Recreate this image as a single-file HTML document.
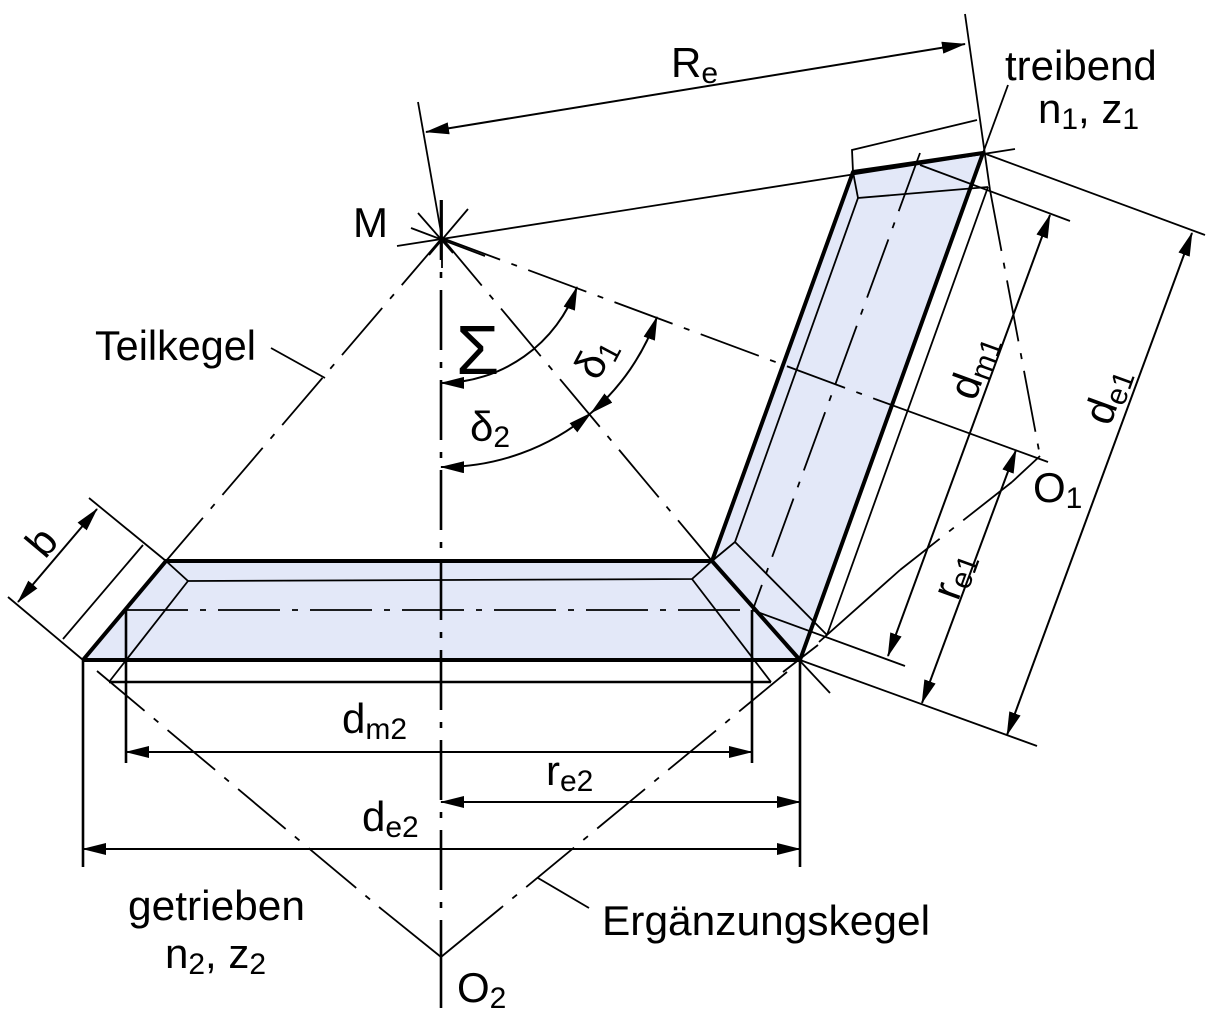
<!DOCTYPE html>
<html><head><meta charset="utf-8"><style>
html,body{margin:0;padding:0;background:#fff}
svg{display:block}
text{font-family:"Liberation Sans",Arial,sans-serif;fill:#000}
.t{stroke:#000;stroke-width:1.8;fill:none}
.k{stroke:#000;stroke-width:4;fill:none;stroke-linejoin:round}
.m{stroke:#000;stroke-width:2.6;fill:none}
.d{stroke:#000;stroke-width:1.8;fill:none;stroke-dasharray:62 12 6 12}
.dv{stroke:#000;stroke-width:2.6;fill:none;stroke-dasharray:60 12 6 12}
.a{stroke:#000;stroke-width:2;fill:none;marker-start:url(#ar);marker-end:url(#ar)}
</style></head><body>
<svg width="1209" height="1019" viewBox="0 0 1209 1019">
<defs>
<marker id="ar" markerWidth="24" markerHeight="12" refX="23" refY="6" orient="auto-start-reverse" markerUnits="userSpaceOnUse">
<path d="M0,0 L24,6 L0,12 Z" fill="#000"/>
</marker>
</defs>

<polygon points="166,561 712,561 800,660 83,660" fill="#e3e8f8"/>
<polygon points="853,172 983,153 800,660 712,561" fill="#e3e8f8"/>

<line class="dv" x1="441" y1="200" x2="441" y2="958"/>
<line class="m" x1="441" y1="958" x2="441" y2="1008"/>
<line class="d" x1="442" y1="238" x2="875" y2="399"/>
<line class="t" x1="875" y1="399" x2="1048" y2="462"/>
<line class="d" x1="442" y1="238" x2="712" y2="561"/>
<line class="d" x1="442" y1="238" x2="166" y2="561"/>
<line class="t" x1="271" y1="348" x2="325" y2="378"/>
<line class="d" x1="126" y1="610" x2="752" y2="610"/>
<line class="d" x1="920" y1="153" x2="752" y2="612"/>

<g class="t">
<line x1="442" y1="200" x2="442" y2="268"/>
<line x1="468" y1="209" x2="429" y2="255"/>
<line x1="418" y1="213" x2="453" y2="253"/>
<line x1="411" y1="228" x2="485" y2="256"/>
</g>
<line class="t" x1="397" y1="246" x2="1015" y2="149"/>
<line class="t" x1="442" y1="238" x2="418" y2="102"/>
<line class="t" x1="965" y1="14" x2="990" y2="190"/>
<line class="d" x1="990" y1="190" x2="1040" y2="456"/>
<line class="t" x1="983" y1="153" x2="1008" y2="85"/>
<polyline class="t" points="853,172 852,150 977,120"/>

<line class="a" x1="426" y1="132" x2="965" y2="44"/>

<polyline class="t" points="988,187 858,198 735,542 712,561"/>
<line class="t" x1="853" y1="172" x2="858" y2="198"/>
<line class="t" x1="735" y1="542" x2="827" y2="635"/>
<line class="t" x1="920" y1="165" x2="1070" y2="221"/>
<line class="t" x1="988" y1="187" x2="827" y2="635"/>
<line class="t" x1="752" y1="610" x2="905" y2="666"/>
<line class="t" x1="983" y1="153" x2="1205" y2="235"/>
<line class="t" x1="800" y1="660" x2="1037" y2="746"/>
<line class="t" x1="1040" y1="456" x2="1012" y2="482"/>
<line class="d" x1="1012" y1="482" x2="900" y2="570"/>
<line class="t" x1="900" y1="570" x2="819" y2="642"/>
<polyline class="k" points="712,561 853,172 983,153 800,660"/>

<polyline class="t" points="166,561 188,581 692,579 712,561"/>
<line class="t" x1="188" y1="581" x2="109" y2="682"/>
<line class="t" x1="692" y1="579" x2="771" y2="682"/>
<line class="m" x1="109" y1="682" x2="771" y2="682"/>
<polyline class="k" points="83,660 166,561 712,561 800,660 83,660"/>

<line class="t" x1="89" y1="498" x2="166" y2="561"/>
<line class="t" x1="8" y1="597" x2="83" y2="660"/>
<line class="t" x1="63" y1="639" x2="143" y2="545"/>
<line class="a" x1="97" y1="509" x2="18" y2="602"/>

<g class="t">
<line x1="783" y1="672" x2="818" y2="645"/>
<line x1="830" y1="693" x2="786" y2="646"/>
</g>

<line class="m" x1="83" y1="660" x2="83" y2="867"/>
<line class="m" x1="800" y1="660" x2="800" y2="867"/>
<line class="m" x1="126" y1="610" x2="126" y2="763"/>
<line class="m" x1="752" y1="610" x2="752" y2="763"/>
<line class="a" x1="126" y1="752" x2="752" y2="752"/>
<line class="a" x1="441" y1="802" x2="800" y2="802"/>
<line class="a" x1="83" y1="849" x2="800" y2="849"/>

<line class="d" x1="97" y1="671" x2="379" y2="907"/>
<line class="t" x1="379" y1="907" x2="441" y2="957"/>
<line class="d" x1="787" y1="672" x2="502" y2="907"/>
<line class="t" x1="502" y1="907" x2="441" y2="957"/>
<polyline class="t" points="538,878 589,908"/>

<line class="a" x1="1192" y1="233" x2="1007" y2="735"/>
<line class="a" x1="1050" y1="215" x2="888" y2="656"/>
<line class="a" x1="1016" y1="450" x2="922" y2="703"/>

<path class="a" d="M441,383 A145,145 0 0 0 577,287"/>
<path class="a" d="M441,467 A229,229 0 0 0 591,413"/>
<path class="a" d="M591,413 A229,229 0 0 0 657,317"/>

<text x="671" y="77" font-size="42">R<tspan font-size="30" dy="6">e</tspan></text>
<text x="1005" y="80" font-size="42">treibend</text>
<text x="1038" y="123" font-size="42">n<tspan font-size="30" dy="6">1</tspan><tspan dy="-6">, z</tspan><tspan font-size="30" dy="6">1</tspan></text>
<text x="353" y="237" font-size="42">M</text>
<text x="95" y="360" font-size="42" textLength="161" lengthAdjust="spacingAndGlyphs">Teilkegel</text>
<text x="456" y="374" style="font-size:70px;font-family:'Liberation Sans',sans-serif">Σ</text>
<text font-size="42" transform="translate(598,382) rotate(-62)">δ<tspan font-size="30" dy="6">1</tspan></text>
<text x="470" y="441" font-size="42">δ<tspan font-size="30" dy="6">2</tspan></text>
<text font-size="42" transform="translate(975,402) rotate(-70)">d<tspan font-size="30" dy="6">m1</tspan></text>
<text font-size="42" transform="translate(1110,427) rotate(-70)">d<tspan font-size="30" dy="6">e1</tspan></text>
<text font-size="42" transform="translate(958,602) rotate(-70)">r<tspan font-size="30" dy="6">e1</tspan></text>
<text x="1033" y="502" font-size="42">O<tspan font-size="30" dy="6">1</tspan></text>
<text font-size="42" transform="translate(45,560) rotate(-50)">b</text>
<text x="342" y="733" font-size="42">d<tspan font-size="30" dy="6">m2</tspan></text>
<text x="546" y="785" font-size="42">r<tspan font-size="30" dy="6">e2</tspan></text>
<text x="362" y="831" font-size="42">d<tspan font-size="30" dy="6">e2</tspan></text>
<text x="128" y="920" font-size="42" textLength="177" lengthAdjust="spacingAndGlyphs">getrieben</text>
<text x="165" y="968" font-size="42">n<tspan font-size="30" dy="6">2</tspan><tspan dy="-6">, z</tspan><tspan font-size="30" dy="6">2</tspan></text>
<text x="602" y="935" font-size="42" textLength="328" lengthAdjust="spacingAndGlyphs">Ergänzungskegel</text>
<text x="457" y="1002" font-size="42">O<tspan font-size="30" dy="6">2</tspan></text>
</svg>
</body></html>
